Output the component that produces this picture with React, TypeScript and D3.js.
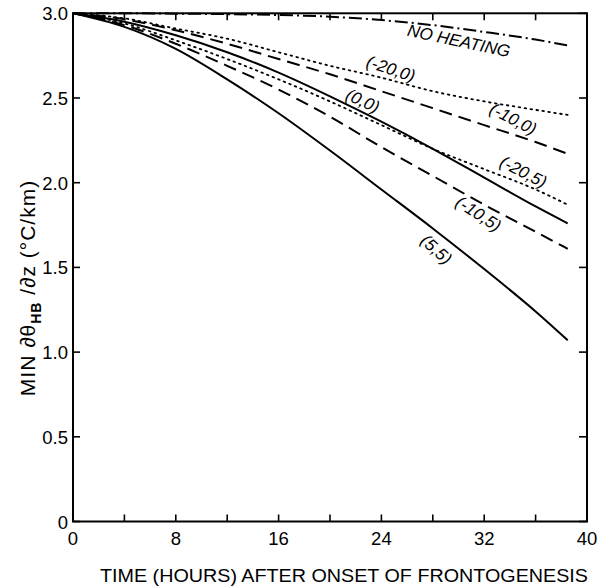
import * as d3 from 'd3'

// hours after onset of frontogenesis
const hours = [0, 4, 8, 12, 16, 20, 24, 28, 32, 36, 38.5]

// min d(theta_HB)/dz (°C/km) for each heating case
const noHeating = [3.0, 3.0, 2.998, 2.995, 2.99, 2.98, 2.96, 2.93, 2.89, 2.845, 2.81]
const m20_0 = [3.0, 2.97, 2.91, 2.85, 2.77, 2.69, 2.62, 2.54, 2.48, 2.43, 2.40]
const m10_0 = [3.0, 2.965, 2.90, 2.82, 2.73, 2.64, 2.54, 2.44, 2.34, 2.24, 2.17]
const p0_0 = [3.0, 2.95, 2.87, 2.77, 2.65, 2.51, 2.36, 2.20, 2.03, 1.86, 1.76]
const m20_5 = [3.0, 2.94, 2.84, 2.73, 2.61, 2.48, 2.34, 2.20, 2.08, 1.96, 1.87]
const m10_5 = [3.0, 2.93, 2.82, 2.69, 2.55, 2.39, 2.21, 2.04, 1.87, 1.71, 1.61]
const p5_5 = [3.0, 2.92, 2.79, 2.61, 2.41, 2.19, 1.96, 1.73, 1.49, 1.24, 1.07]

const xTickLabels = [0, 8, 16, 24, 32, 40]
const yTickLabels = ['0', '0.5', '1.0', '1.5', '2.0', '2.5', '3.0']

const W = 602
const H = 587
const left = 73
const right = 587
const top = 13.3
const bottom = 521.5

const font = '"Liberation Sans", Arial, sans-serif'

function App() {
  const x = d3.scaleLinear().domain([0, 40]).range([left, right])
  const y = d3.scaleLinear().domain([0, 3]).range([bottom, top])

  const line = d3.line<number>()
    .x((d, i) => x(hours[i]))
    .y(d => y(d))
    .curve(d3.curveMonotoneX)

  const series = [
    {v: noHeating, dash: '13,4,2,4'},
    {v: m20_0, dash: '1.6,4.4'},
    {v: m10_0, dash: '13,7'},
    {v: p0_0, dash: null},
    {v: m20_5, dash: '1.6,4.4'},
    {v: m10_5, dash: '13,7'},
    {v: p5_5, dash: null},
  ]

  // curve labels: text, position in data units, rotation
  const labels = [
    {t: 'NO HEATING', hx: 30.0, hy: 2.83, rot: 12},
    {t: '(-20,0)', hx: 24.7, hy: 2.665, rot: 18},
    {t: '(0,0)', hx: 22.5, hy: 2.476, rot: 25},
    {t: '(-10,0)', hx: 34.2, hy: 2.37, rot: 27},
    {t: '(-20,5)', hx: 35.0, hy: 2.057, rot: 27},
    {t: '(-10,5)', hx: 31.5, hy: 1.81, rot: 33},
    {t: '(5,5)', hx: 28.2, hy: 1.60, rot: 42},
  ]

  const minor = d3.range(0, 41, 4)
  const yTicks = d3.range(0, 3.01, 0.5)

  return (
    <svg width={W} height={H} style={{position: 'absolute', left: 0, top: 0, background: '#fff'}}>
      {/* curves */}
      {series.map((s, i) => (
        <path key={i} d={line(s.v) || ''} fill="none" stroke="#000"
          strokeWidth={s.dash && s.dash.startsWith('1.6') ? 1.8 : 2}
          strokeDasharray={s.dash || undefined}
          strokeLinecap={s.dash && s.dash.startsWith('1.6') ? 'round' : 'butt'} />
      ))}

      {/* frame */}
      <rect x={left} y={top} width={right - left} height={bottom - top} fill="none" stroke="#000" strokeWidth={2} />

      {/* ticks */}
      {minor.map(t => (
        <g key={'xt' + t}>
          <line x1={x(t)} x2={x(t)} y1={bottom} y2={bottom - 7} stroke="#000" strokeWidth={1.6} />
          <line x1={x(t)} x2={x(t)} y1={top} y2={top + 7} stroke="#000" strokeWidth={1.6} />
        </g>
      ))}
      {yTicks.map(v => (
        <g key={'yt' + v}>
          <line x1={left} x2={left + 7} y1={y(v)} y2={y(v)} stroke="#000" strokeWidth={1.6} />
          <line x1={right} x2={right - 8} y1={y(v)} y2={y(v)} stroke="#000" strokeWidth={1.6} />
        </g>
      ))}

      {/* tick labels */}
      {xTickLabels.map(t => (
        <text key={'xl' + t} x={x(t)} y={bottom + 23} textAnchor="middle"
          fontFamily={font} fontSize={18.5} fill="#000">{t}</text>
      ))}
      {yTickLabels.map((l, i) => (
        <text key={'yl' + l} x={left - 5} y={y(yTicks[i]) + 7} textAnchor="end"
          fontFamily={font} fontSize={18.5} fill="#000">{l}</text>
      ))}

      {/* curve labels */}
      {labels.map(l => (
        <text key={l.t} transform={`translate(${x(l.hx)},${y(l.hy)}) rotate(${l.rot})`}
          textAnchor="middle" dominantBaseline="middle" fontFamily={font}
          fontStyle="italic" fontSize={17} fill="#000">{l.t}</text>
      ))}

      {/* axis titles */}
      <text x={344} y={582} textAnchor="middle" fontFamily={font} fontSize={19} fill="#000"
        textLength={488} lengthAdjust="spacingAndGlyphs">
        TIME (HOURS) AFTER ONSET OF FRONTOGENESIS
      </text>
      <text transform="translate(35,288) rotate(-90)" textAnchor="middle" fontFamily={font}
        fontSize={21} fill="#000" letterSpacing={1}>
        <tspan>MIN ∂θ</tspan>
        <tspan fontSize={14} fontWeight="bold" dy={6}>HB</tspan>
        <tspan dy={-6}> /∂z (°C/km)</tspan>
      </text>
    </svg>
  )
}

export default App
